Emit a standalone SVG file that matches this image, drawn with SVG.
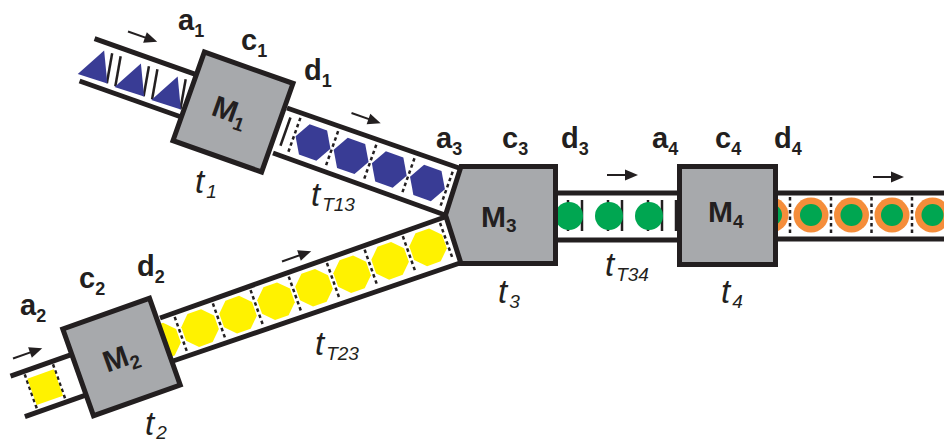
<svg xmlns="http://www.w3.org/2000/svg" xmlns:xlink="http://www.w3.org/1999/xlink" width="944" height="443" viewBox="0 0 944 443">
<style>
.belt{stroke:#231f20;stroke-width:5;fill:none}
.tick{stroke:#231f20;stroke-width:2.5}
.dtick{stroke:#231f20;stroke-width:2.5;stroke-dasharray:3.5 3}
.box{fill:#a7a9ac;stroke:#231f20;stroke-width:5}
.lbl{font-family:"Liberation Sans",Arial,sans-serif;font-weight:bold;font-size:29px;fill:#231f20}
.tl{font-family:"Liberation Sans",Arial,sans-serif;font-style:italic;font-size:33px;fill:#231f20}
.ml{font-family:"Liberation Sans",Arial,sans-serif;font-weight:bold;font-size:30px;fill:#231f20}
.blue{fill:#393c95}
.yel{fill:#fff200}
.grn{fill:#00a651}
.org{fill:#f58d3a}
</style>
<defs>
<g id="arr"><line x1="0" y1="0" x2="20" y2="0" stroke="#231f20" stroke-width="2"/><path d="M18,-5.5 L31,0 L18,5.5Z" fill="#231f20"/></g>
<polygon id="hex" points="18.5,0 9.25,16 -9.25,16 -18.5,0 -9.25,-16 9.25,-16"/>
<polygon id="oct" points="17.4,7.2 7.2,17.4 -7.2,17.4 -17.4,7.2 -17.4,-7.2 -7.2,-17.4 7.2,-17.4 17.4,-7.2"/>
<line id="dt" x1="0" y1="-19" x2="0" y2="19" class="dtick"/>
</defs>
<rect width="944" height="443" fill="#fff"/>

<g id="connectors">
 <!-- belt into M1 -->
 <g transform="translate(233,112) rotate(19.5)">
  <line class="belt" x1="-155" y1="-23" x2="0" y2="-23"/>
  <line class="belt" x1="-155" y1="22" x2="0" y2="22"/>
  <g class="tick">
   <line x1="-133.5" y1="-15" x2="-128.5" y2="15"/><line x1="-124.5" y1="-15" x2="-119.5" y2="15"/>
   <line x1="-94.5" y1="-15" x2="-89.5" y2="15"/><line x1="-85.5" y1="-15" x2="-80.5" y2="15"/>
   <line x1="-55.5" y1="-15" x2="-50.5" y2="15"/>
  </g>
  <polygon class="blue" points="-159,16 -142,-15 -128,15"/>
  <polygon class="blue" points="-120,16 -103,-15 -89,15"/>
  <polygon class="blue" points="-81,16 -64,-15 -50,15"/>
 </g>
 <!-- belt M1 -> M3 -->
 <line class="belt" x1="287" y1="108" x2="459" y2="168"/>
 <line class="belt" x1="273" y1="153" x2="445" y2="215"/>
 <g transform="translate(233,112) rotate(19.5)">
  <line class="tick" x1="56" y1="-14" x2="56" y2="16" stroke-width="3"/>
  <use href="#dt" x="65.5" y="2"/><use href="#dt" x="105.5" y="2"/><use href="#dt" x="146" y="2"/><use href="#dt" x="186.5" y="2"/><use href="#dt" x="227" y="2"/>
  <use href="#hex" class="blue" x="85.6" y="2"/>
  <use href="#hex" class="blue" x="126" y="2"/>
  <use href="#hex" class="blue" x="166.5" y="2"/>
  <use href="#hex" class="blue" x="207" y="2"/>
 </g>
 <!-- belt into M2 -->
 <g transform="translate(121.5,357) rotate(-19.5)">
  <line class="belt" x1="-111" y1="-19" x2="0" y2="-19"/>
  <line class="belt" x1="-111" y1="24" x2="0" y2="24"/>
  <use href="#dt" x="-97" y="3"/><use href="#dt" x="-67" y="3"/>
  <rect class="yel" x="-96" y="-11" width="28" height="28"/>
 </g>
 <!-- belt M2 -> M3 -->
 <line class="belt" x1="160" y1="318" x2="445" y2="217"/>
 <line class="belt" x1="173" y1="361" x2="460" y2="263"/>
 <g transform="translate(121.5,357) rotate(-19.5)">
  <use href="#dt" x="63.5" y="-1"/><use href="#dt" x="104" y="-1"/><use href="#dt" x="144" y="-1"/><use href="#dt" x="184.5" y="-1"/><use href="#dt" x="225" y="-1"/><use href="#dt" x="265" y="-1"/><use href="#dt" x="305.5" y="-1"/><use href="#dt" x="345" y="-1"/>
  <use href="#oct" class="yel" x="43.4" y="-1"/>
  <use href="#oct" class="yel" x="83.7" y="-1"/>
  <use href="#oct" class="yel" x="124" y="-1"/>
  <use href="#oct" class="yel" x="164.3" y="-1"/>
  <use href="#oct" class="yel" x="204.6" y="-1"/>
  <use href="#oct" class="yel" x="245" y="-1"/>
  <use href="#oct" class="yel" x="285.3" y="-1"/>
  <use href="#oct" class="yel" x="325.6" y="-1"/>
 </g>
 <!-- belt M3 -> M4 -->
 <line class="belt" x1="556" y1="193" x2="679" y2="193"/>
 <line class="belt" x1="556" y1="240" x2="679" y2="240"/>
 <g class="tick" stroke-width="3">
  <line x1="568" y1="200" x2="568" y2="231"/><line x1="582" y1="200" x2="582" y2="231"/>
  <line x1="608" y1="200" x2="608" y2="231"/><line x1="622" y1="200" x2="622" y2="231"/>
  <line x1="648" y1="200" x2="648" y2="231"/><line x1="662" y1="200" x2="662" y2="231"/>
  <line x1="676" y1="200" x2="676" y2="231"/>
 </g>
 <circle class="grn" cx="569" cy="216" r="14"/>
 <circle class="grn" cx="609" cy="216" r="14"/>
 <circle class="grn" cx="649" cy="216" r="14"/>
 <!-- belt out of M4 -->
 <line class="belt" x1="776" y1="193" x2="944" y2="193"/>
 <line class="belt" x1="776" y1="239" x2="944" y2="239"/>
 <g>
  <use href="#dt" x="790" y="216"/><use href="#dt" x="831" y="216"/><use href="#dt" x="871.5" y="216"/><use href="#dt" x="912" y="216"/>
 </g>
 <g>
  <circle class="org" cx="771" cy="215" r="17.5"/><circle class="grn" cx="771" cy="215" r="11"/>
  <circle class="org" cx="811" cy="215" r="17.5"/><circle class="grn" cx="811" cy="215" r="11"/>
  <circle class="org" cx="851.5" cy="215" r="17.5"/><circle class="grn" cx="851.5" cy="215" r="11"/>
  <circle class="org" cx="892" cy="215" r="17.5"/><circle class="grn" cx="892" cy="215" r="11"/>
  <circle class="org" cx="932.5" cy="215" r="17.5"/><circle class="grn" cx="932.5" cy="215" r="11"/>
 </g>
 <!-- flow arrows -->
 <use href="#arr" transform="translate(128,31.5) rotate(19.5)"/>
 <use href="#arr" transform="translate(351.5,113) rotate(19.5)"/>
 <use href="#arr" transform="translate(607,175)"/>
 <use href="#arr" transform="translate(873,177)"/>
 <use href="#arr" transform="translate(282,261.5) rotate(-19.5)"/>
 <use href="#arr" transform="translate(13,358.5) rotate(-19.5)"/>
</g>

<g id="M1">
 <g transform="translate(233,112) rotate(19.5)">
  <rect class="box" x="-47" y="-47" width="94" height="94"/>
  <text class="ml" x="-3" y="10" text-anchor="middle">M<tspan font-size="19" dy="6">1</tspan></text>
 </g>
</g>
<g id="M2">
 <g transform="translate(121.5,357) rotate(-19.5)">
  <rect class="box" x="-46" y="-46" width="92" height="92"/>
  <text class="ml" x="-1" y="10" text-anchor="middle">M<tspan font-size="19" dy="6">2</tspan></text>
 </g>
</g>
<g id="M3">
 <polygon class="box" points="461,166.5 555.5,166.5 555.5,263.5 461,263.5 445.5,215"/>
 <text class="ml" x="481" y="227">M<tspan font-size="19" dy="5">3</tspan></text>
</g>
<g id="M4">
 <rect class="box" x="679.5" y="166.5" width="96" height="98"/>
 <text class="ml" x="708" y="222">M<tspan font-size="19" dy="6">4</tspan></text>
</g>

<g id="labels">
 <text class="lbl" x="178" y="30">a<tspan font-size="18" dy="7">1</tspan></text>
 <text class="lbl" x="241" y="50">c<tspan font-size="18" dy="7">1</tspan></text>
 <text class="lbl" x="304" y="80">d<tspan font-size="18" dy="7">1</tspan></text>
 <text class="lbl" x="436" y="148">a<tspan font-size="18" dy="7">3</tspan></text>
 <text class="lbl" x="502" y="148">c<tspan font-size="18" dy="7">3</tspan></text>
 <text class="lbl" x="561" y="148">d<tspan font-size="18" dy="7">3</tspan></text>
 <text class="lbl" x="652" y="148">a<tspan font-size="18" dy="7">4</tspan></text>
 <text class="lbl" x="715" y="148">c<tspan font-size="18" dy="7">4</tspan></text>
 <text class="lbl" x="774" y="148">d<tspan font-size="18" dy="7">4</tspan></text>
 <text class="lbl" x="20" y="315">a<tspan font-size="18" dy="7">2</tspan></text>
 <text class="lbl" x="79" y="288">c<tspan font-size="18" dy="7">2</tspan></text>
 <text class="lbl" x="137" y="276">d<tspan font-size="18" dy="7">2</tspan></text>
 <text class="tl" x="195" y="193">t<tspan font-size="19" dx="2" dy="5">1</tspan></text>
 <text class="tl" x="311" y="206">t<tspan font-size="19" dx="2" dy="5">T13</tspan></text>
 <text class="tl" x="498" y="303">t<tspan font-size="19" dx="2" dy="5">3</tspan></text>
 <text class="tl" x="605" y="276">t<tspan font-size="19" dx="2" dy="5">T34</tspan></text>
 <text class="tl" x="721" y="303">t<tspan font-size="19" dx="2" dy="5">4</tspan></text>
 <text class="tl" x="315" y="355">t<tspan font-size="19" dx="2" dy="5">T23</tspan></text>
 <text class="tl" x="145" y="435">t<tspan font-size="19" dx="2" dy="4">2</tspan></text>
</g>
</svg>
